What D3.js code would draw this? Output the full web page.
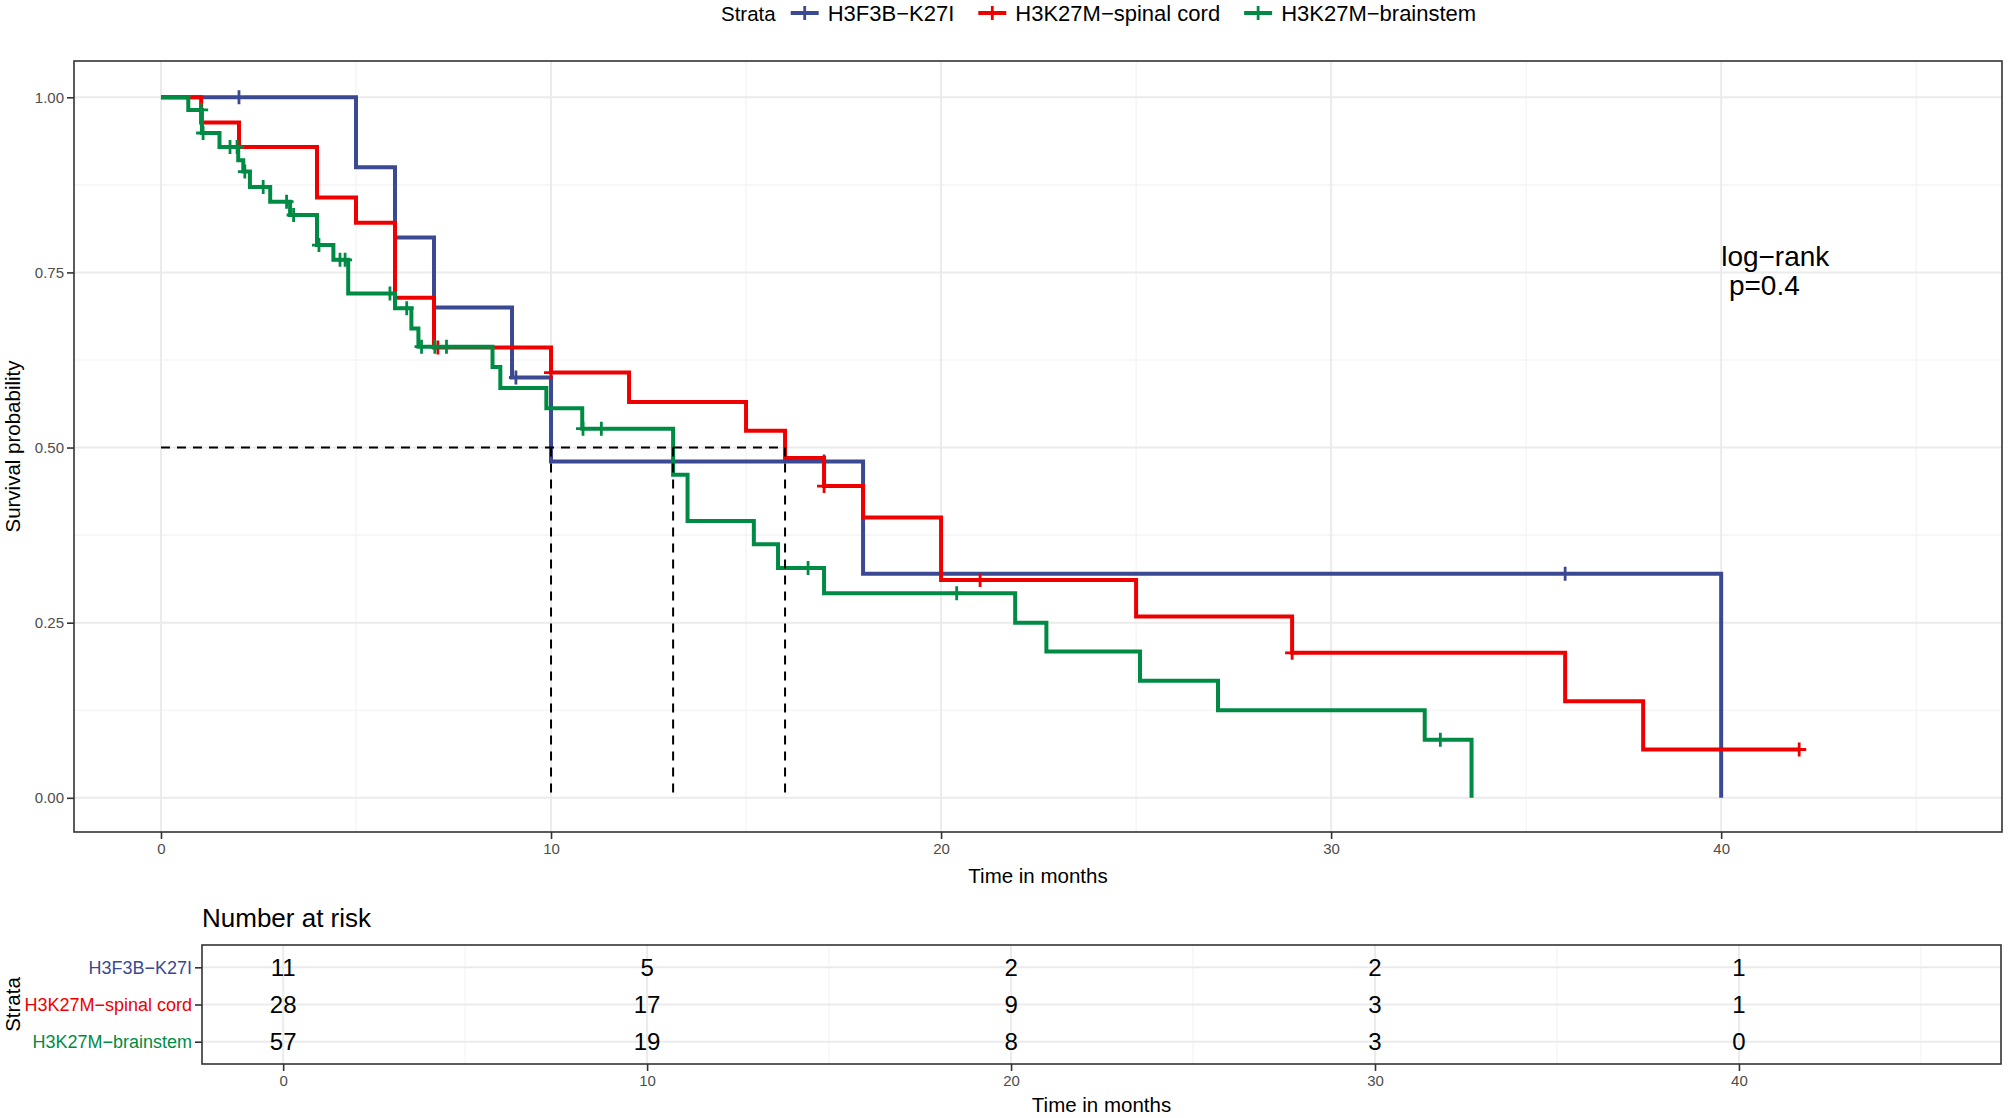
<!DOCTYPE html>
<html>
<head>
<meta charset="utf-8">
<script src="https://cdn.jsdelivr.net/npm/d3@7"></script>
<style>
body { margin: 0; background: #fff; }
svg { font-family: "Liberation Sans", Arial, sans-serif; display: block; background: #fff; }
</style>
</head>
<body>
<svg width="2008" height="1118"></svg>
<script>
// groups and palette
const strata = ['H3F3B-K27I', 'H3K27M-spinal cord', 'H3K27M-brainstem']
const colors = ['#3B4992', '#EE0000', '#008B45']

// Kaplan-Meier steps (time in months, survival after the step)
const k27iTimes = [0, 5, 6, 7, 9, 10, 18, 40]
const k27iSurv = [1, 0.9, 0.8, 0.7, 0.6, 0.48, 0.32, 0]
const k27iCensor = [2, 9.1, 17, 36]

const spinalTimes = [0, 1.03, 2, 4, 5, 6, 7, 10, 12, 15, 16, 17, 18, 20, 25, 29, 36, 38]
const spinalSurv = [1, 0.964, 0.929, 0.857, 0.821, 0.714, 0.643, 0.607, 0.565, 0.524, 0.485, 0.445, 0.4, 0.311, 0.259, 0.207, 0.138, 0.069]
const spinalCensor = [7.1, 10, 17, 21, 29, 42]

const brainTimes = [0, 0.7, 1.05, 1.5, 1.98, 2.11, 2.28, 2.8, 3.31, 4.0, 4.42, 4.8, 6.0, 6.42, 6.6, 8.5, 8.7, 9.88, 10.8, 13.13, 13.5, 15.2, 15.82, 17.0, 21.9, 22.7, 25.1, 27.1, 32.4, 33.6]
const brainSurv = [1, 0.982, 0.949, 0.929, 0.91, 0.894, 0.872, 0.851, 0.832, 0.789, 0.768, 0.72, 0.699, 0.67, 0.644, 0.615, 0.585, 0.556, 0.527, 0.461, 0.395, 0.362, 0.328, 0.292, 0.25, 0.209, 0.167, 0.125, 0.083, 0]
const brainCensor = [1.03, 1.08, 1.77, 1.95, 2.15, 2.62, 3.22, 3.4, 4.05, 4.59, 4.72, 5.87, 6.3, 6.68, 7.02, 7.32, 10.82, 11.29, 16.59, 20.4, 32.8]

const lastTimes = [40, 42, 33.6]
const medians = [10, 16, 13.13]

// number at risk table
const riskTimes = [0, 10, 20, 30, 40]
const riskK27i = [11, 5, 2, 2, 1]
const riskSpinal = [28, 17, 9, 3, 1]
const riskBrain = [57, 19, 8, 3, 0]

// ticks
const xMajor = [0, 10, 20, 30, 40]
const xMinor = [5, 15, 25, 35, 45]
const yMajor = [0, 0.25, 0.5, 0.75, 1]
const yMinor = [0.125, 0.375, 0.625, 0.875]
const yLabels = ['0.00', '0.25', '0.50', '0.75', '1.00']

const svg = d3.select('svg')
const minus = s => s.replace(/-/g, '\u2212')

const series = [
    { times: k27iTimes, surv: k27iSurv, censor: k27iCensor },
    { times: spinalTimes, surv: spinalSurv, censor: spinalCensor },
    { times: brainTimes, surv: brainSurv, censor: brainCensor }
].map((s, i) => ({ ...s, name: strata[i], color: colors[i], end: lastTimes[i] }))

const survAt = (s, t) => {
    let v = s.surv[0]
    s.times.forEach((tt, j) => { if (tt <= t) v = s.surv[j] })
    return v
}

// ---------- main panel ----------
const pLeft = 74, pRight = 2002, pTop = 61, pBottom = 832
const x = d3.scaleLinear().domain([-2.23, 47.2]).range([pLeft, pRight])
const y = d3.scaleLinear().domain([-0.0488, 1.0518]).range([pBottom, pTop])

const grid = svg.append('g')
grid.selectAll('.vmin').data(xMinor).enter().append('line')
    .attr('x1', d => x(d)).attr('x2', d => x(d)).attr('y1', pTop).attr('y2', pBottom)
    .attr('stroke', '#f2f2f2').attr('stroke-width', 1.1)
grid.selectAll('.hmin').data(yMinor).enter().append('line')
    .attr('x1', pLeft).attr('x2', pRight).attr('y1', d => y(d)).attr('y2', d => y(d))
    .attr('stroke', '#f2f2f2').attr('stroke-width', 1.1)
grid.selectAll('.vmaj').data(xMajor).enter().append('line')
    .attr('x1', d => x(d)).attr('x2', d => x(d)).attr('y1', pTop).attr('y2', pBottom)
    .attr('stroke', '#ebebeb').attr('stroke-width', 2)
grid.selectAll('.hmaj').data(yMajor).enter().append('line')
    .attr('x1', pLeft).attr('x2', pRight).attr('y1', d => y(d)).attr('y2', d => y(d))
    .attr('stroke', '#ebebeb').attr('stroke-width', 2)

const line = d3.line().x(d => x(d[0])).y(d => y(d[1])).curve(d3.curveStepAfter)
const cross = 'M-7,0h14M0,-7v14'

const curves = svg.append('g')
series.forEach(s => {
    const pts = s.times.map((t, j) => [t, s.surv[j]])
    pts.push([s.end, s.surv[s.surv.length - 1]])
    curves.append('path').attr('d', line(pts))
        .attr('fill', 'none').attr('stroke', s.color).attr('stroke-width', 4)
    curves.selectAll(null).data(s.censor).enter().append('path')
        .attr('d', cross)
        .attr('transform', t => `translate(${x(t)},${y(survAt(s, t))})`)
        .attr('stroke', s.color).attr('stroke-width', 2.8)
})

// median survival lines
const med = svg.append('g').attr('stroke', '#000').attr('stroke-width', 2).attr('stroke-dasharray', '9,7')
med.append('line').attr('x1', x(0)).attr('x2', x(d3.max(medians))).attr('y1', y(0.5)).attr('y2', y(0.5))
med.selectAll(null).data(medians).enter().append('line')
    .attr('x1', d => x(d)).attr('x2', d => x(d)).attr('y1', y(0.5)).attr('y2', y(0))

svg.append('rect').attr('x', pLeft).attr('y', pTop).attr('width', pRight - pLeft).attr('height', pBottom - pTop)
    .attr('fill', 'none').attr('stroke', '#333').attr('stroke-width', 1.6)

const styleAxis = g => {
    g.select('.domain').remove()
    g.selectAll('line').attr('stroke', '#333').attr('stroke-width', 1.6)
    g.selectAll('text').attr('fill', '#4d4d4d').attr('font-size', 15)
        .attr('font-family', '"Liberation Sans", Arial, sans-serif')
}

svg.append('g').attr('transform', `translate(0,${pBottom})`)
    .call(d3.axisBottom(x).tickValues(xMajor).tickSize(7).tickPadding(4))
    .call(styleAxis)
svg.append('g').attr('transform', `translate(${pLeft},0)`)
    .call(d3.axisLeft(y).tickValues(yMajor).tickFormat((d, i) => yLabels[i]).tickSize(7).tickPadding(3))
    .call(styleAxis)

svg.append('text').attr('x', (pLeft + pRight) / 2).attr('y', 883).attr('text-anchor', 'middle')
    .attr('font-size', 20.5).text('Time in months')
svg.append('text').attr('transform', `translate(20,${(pTop + pBottom) / 2}) rotate(-90)`)
    .attr('text-anchor', 'middle').attr('font-size', 20.5).text('Survival probability')

const lr = svg.append('text').attr('x', x(40)).attr('y', 266).attr('font-size', 28)
lr.append('tspan').attr('x', x(40)).text(minus('log-rank'))
lr.append('tspan').attr('x', x(40)).attr('dy', 29).text('\u00a0p=0.4')

// ---------- legend ----------
const legend = svg.append('g')
let lx = 721
const title = legend.append('text').attr('x', lx).attr('y', 21).attr('font-size', 20.5).text('Strata')
lx += title.node().getComputedTextLength() + 15
series.forEach(s => {
    legend.append('line').attr('x1', lx).attr('x2', lx + 28).attr('y1', 13).attr('y2', 13)
        .attr('stroke', s.color).attr('stroke-width', 4)
    legend.append('path').attr('d', cross).attr('transform', `translate(${lx + 14},13)`)
        .attr('stroke', s.color).attr('stroke-width', 2.8)
    const t = legend.append('text').attr('x', lx + 37).attr('y', 21).attr('font-size', 22).text(minus(s.name))
    lx += 37 + t.node().getComputedTextLength() + 24
})

// ---------- risk table ----------
const tLeft = 202, tRight = 2001, tTop = 945, tBottom = 1064
const tx = d3.scaleLinear().domain([-2.23, 47.2]).range([tLeft, tRight])
const ty = d3.scalePoint().domain(strata).range([tTop, tBottom]).padding(0.6)

const tgrid = svg.append('g')
tgrid.selectAll('.vmin').data(xMinor).enter().append('line')
    .attr('x1', d => tx(d)).attr('x2', d => tx(d)).attr('y1', tTop).attr('y2', tBottom)
    .attr('stroke', '#f2f2f2').attr('stroke-width', 1.1)
tgrid.selectAll('.vmaj').data(xMajor).enter().append('line')
    .attr('x1', d => tx(d)).attr('x2', d => tx(d)).attr('y1', tTop).attr('y2', tBottom)
    .attr('stroke', '#ebebeb').attr('stroke-width', 2)
tgrid.selectAll('.hmaj').data(strata).enter().append('line')
    .attr('x1', tLeft).attr('x2', tRight).attr('y1', d => ty(d)).attr('y2', d => ty(d))
    .attr('stroke', '#ebebeb').attr('stroke-width', 2)

const risk = [riskK27i, riskSpinal, riskBrain]
strata.forEach((name, i) => {
    svg.append('g').selectAll('text').data(risk[i]).enter().append('text')
        .attr('x', (_d, j) => tx(riskTimes[j])).attr('y', ty(name)).attr('dy', '0.36em')
        .attr('text-anchor', 'middle').attr('font-size', 24).text(d => d)
})

svg.append('rect').attr('x', tLeft).attr('y', tTop).attr('width', tRight - tLeft).attr('height', tBottom - tTop)
    .attr('fill', 'none').attr('stroke', '#333').attr('stroke-width', 1.6)

svg.append('g').attr('transform', `translate(0,${tBottom})`)
    .call(d3.axisBottom(tx).tickValues(xMajor).tickSize(7).tickPadding(4))
    .call(styleAxis)
const tyAxis = svg.append('g').attr('transform', `translate(${tLeft},0)`)
    .call(d3.axisLeft(ty).tickSize(7).tickPadding(3).tickFormat(minus))
    .call(styleAxis)
tyAxis.selectAll('text').attr('font-size', 18).attr('fill', (_d, i) => colors[i])

svg.append('text').attr('x', tLeft).attr('y', 927).attr('font-size', 26).text('Number at risk')
svg.append('text').attr('x', (tLeft + tRight) / 2).attr('y', 1112).attr('text-anchor', 'middle')
    .attr('font-size', 20.5).text('Time in months')
svg.append('text').attr('transform', `translate(20,${(tTop + tBottom) / 2}) rotate(-90)`)
    .attr('text-anchor', 'middle').attr('font-size', 20.5).text('Strata')
</script>
</body>
</html>
